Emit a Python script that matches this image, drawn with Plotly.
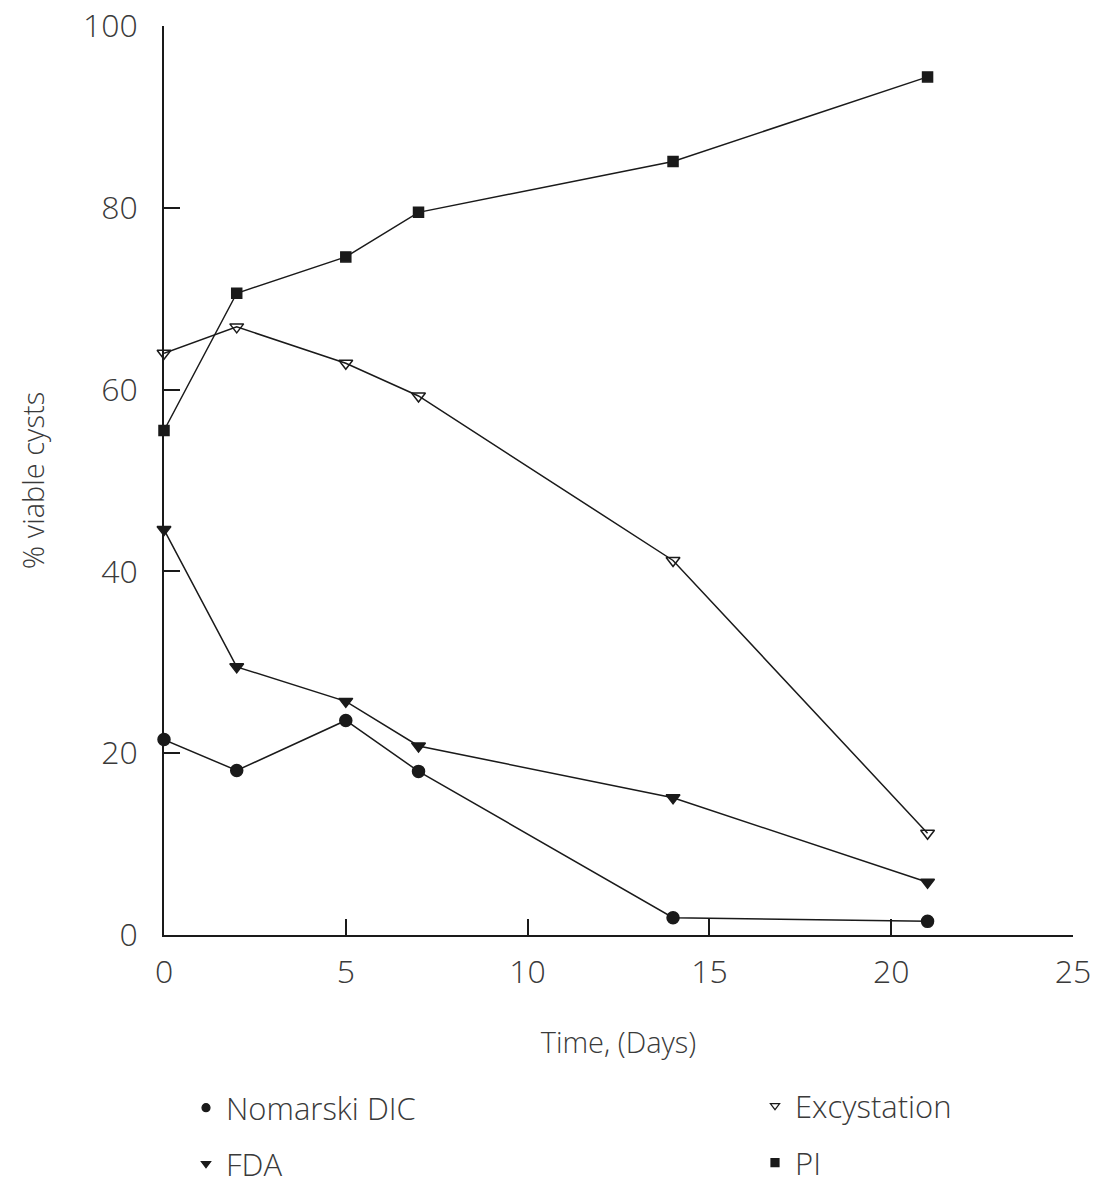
import plotly.graph_objects as go

days = [0, 2, 5, 7, 14, 21]
nomarski_dic = [21.5, 18.1, 23.6, 18.0, 1.9, 1.5]
fda = [44.6, 29.5, 25.7, 20.8, 15.1, 5.8]
excystation = [64.0, 66.9, 62.9, 59.3, 41.2, 11.2]
pi = [55.5, 70.6, 74.6, 79.5, 85.1, 94.4]

x_ticks = [0, 5, 10, 15, 20, 25]
y_ticks = [0, 20, 40, 60, 80, 100]

FONT = "Open Sans"
TXT = "#3a3a3a"
LINE = "#1a1a1a"

series = [
    ("Nomarski DIC", nomarski_dic, "circle", 12, "legend"),
    ("FDA", fda, "triangle-down", 12, "legend2"),
    ("Excystation", excystation, "triangle-down-open", 12, "legend3"),
    ("PI", pi, "square", 10, "legend4"),
]

fig = go.Figure()
for name, vals, sym, size, leg in series:
    fig.add_trace(go.Scatter(
        x=days, y=vals, mode="lines+markers", name=name,
        line=dict(color=LINE, width=1.5),
        marker=dict(symbol=sym, size=size, color=LINE,
                    line=dict(color=LINE, width=1.5)),
        cliponaxis=False, showlegend=False,
    ))
    fig.add_trace(go.Scatter(
        x=[None], y=[None], mode="markers", name=name,
        marker=dict(symbol=sym, size=8, color=LINE,
                    line=dict(color=LINE, width=1.2)),
        showlegend=True, legend=leg,
    ))

# page has an 8px body margin; figure coordinates are offset accordingly
OFF = 8
W, H = 1092, 1178
L, T = 156, 18          # plot area left/top on page: 164, 26
R, B = 27, 251          # plot area right/bottom on page: 1073, 935
pw, ph = W - L - R, H - T - B

def px_x(px):
    return (px - OFF - L) / pw

def px_y(py):
    return (H - B - (py - OFF)) / ph

leg_font = dict(family=FONT, size=31, color=TXT, weight=300)
common = dict(font=leg_font, bgcolor="rgba(0,0,0,0)", borderwidth=0,
              xanchor="left", yanchor="middle", itemwidth=30)

tick_font = dict(family=FONT, size=32, color=TXT, weight=300)
title_font = dict(family=FONT, size=29, color=TXT, weight=300)

fig.update_layout(
    width=W, height=H,
    margin=dict(l=L, r=R, t=T, b=B, pad=0, autoexpand=False),
    paper_bgcolor="white", plot_bgcolor="white",
    font=dict(family=FONT, color=TXT),
    legend=dict(x=px_x(186), y=px_y(1108), **common),
    legend2=dict(x=px_x(186), y=px_y(1164), **common),
    legend3=dict(x=px_x(755), y=px_y(1106), **common),
    legend4=dict(x=px_x(755), y=px_y(1163), **common),
    xaxis=dict(
        range=[0, 25], tickvals=x_ticks, ticktext=[str(v) for v in x_ticks],
        showline=True, linecolor=LINE, linewidth=1.5,
        ticks="inside", ticklen=16, tickwidth=1.5, tickcolor=LINE,
        showgrid=False, zeroline=False, automargin=False,
        tickfont=tick_font, ticklabeloverflow="allow",
        ticklabelstandoff=8,
        title=dict(text="Time, (Days)", font=title_font, standoff=42),
    ),
    yaxis=dict(
        range=[0, 100], tickvals=y_ticks, ticktext=[str(v) for v in y_ticks],
        showline=True, linecolor=LINE, linewidth=1.5,
        ticks="inside", ticklen=16, tickwidth=1.5, tickcolor=LINE,
        showgrid=False, zeroline=False, automargin=False,
        tickfont=tick_font, ticklabeloverflow="allow",
        ticklabelstandoff=18,
        title=dict(text="% viable cysts", font=title_font, standoff=30),
    ),
)

fig.write_html("out.html")
